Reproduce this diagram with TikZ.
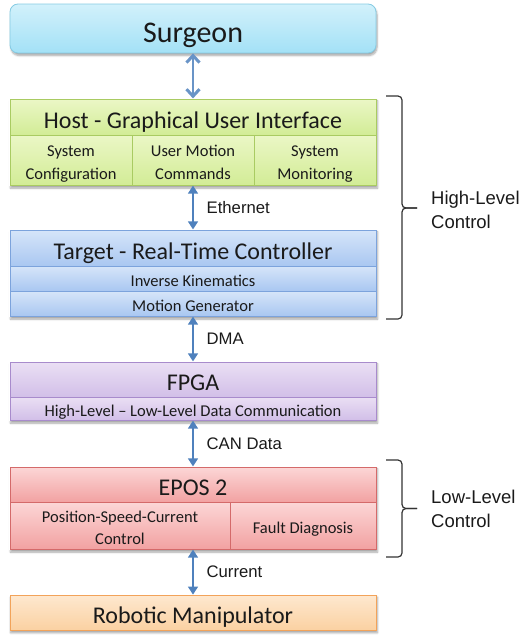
\documentclass[tikz,border=0pt]{standalone}
\usepackage{fontspec}
\setmainfont{Carlito}
\newfontfamily\labelfont{Liberation Sans}
\usetikzlibrary{arrows.meta,fit,backgrounds,shadows.blur}

\definecolor{linkblue}{HTML}{4F81BD}
\definecolor{txt}{HTML}{1A1A1A}
% box palettes: top, bottom, border
\definecolor{cyanT}{HTML}{D2F1FB}\definecolor{cyanB}{HTML}{A3E1F6}\definecolor{cyanD}{HTML}{86CBE3}
\definecolor{grnT}{HTML}{EBF7C6}\definecolor{grnB}{HTML}{D2EC96}\definecolor{grnD}{HTML}{A9CB62}
\definecolor{bluT}{HTML}{D6E5F9}\definecolor{bluB}{HTML}{A9C7F1}\definecolor{bluD}{HTML}{7CA3DC}
\definecolor{purT}{HTML}{EADFF4}\definecolor{purB}{HTML}{D2BFE8}\definecolor{purD}{HTML}{A88BCC}
\definecolor{redT}{HTML}{FCD6D6}\definecolor{redB}{HTML}{F2A2A2}\definecolor{redD}{HTML}{D46A6A}
\definecolor{orgT}{HTML}{FEE8CF}\definecolor{orgB}{HTML}{FBD1A2}\definecolor{orgD}{HTML}{F2A35A}

\tikzset{
  cell/.style n args={3}{rectangle, draw=#3, line width=0.8pt, top color=#1, bottom color=#2,
    inner sep=0pt},
  celltext/.style={text=txt, align=center, inner sep=0pt},
  % box texts: strutted lines, set slightly below the centre of their cells
  big/.style={label={[celltext, font=\fontsize{30}{34}\selectfont, yshift=-7.5pt]center:{\strut #1\strut}}},
  ttl/.style={label={[celltext, font=\fontsize{24}{28}\selectfont, yshift=-5.5pt]center:{\strut #1\strut}}},
  sbt/.style={label={[celltext, font=\fontsize{16.5}{22.5}\selectfont, yshift=-3.6pt]center:{\strut #1\strut}}},
  grp/.style={inner sep=0pt, draw=none, fill=none},
  shade/.style={blur shadow={shadow xshift=1pt, shadow yshift=-2.5pt, shadow blur steps=6, shadow opacity=35}},
  link/.style={draw=linkblue, line width=1.3pt, {Triangle[length=8pt,width=10pt]}-{Triangle[length=8pt,width=10pt]}},
  biglink/.style={draw=linkblue!85!white, line width=2pt, {Straight Barb[length=7pt,width=13pt,line width=3pt]}-{Straight Barb[length=7pt,width=13pt,line width=3pt]}},
  lab/.style={font=\labelfont\fontsize{16.7}{20}\selectfont, text=txt, inner sep=0pt},
  bracelab/.style={font=\labelfont\fontsize{18.5}{24}\selectfont, text=txt, align=left, inner sep=0pt, anchor=west},
  bracket/.style={draw=black!80, line width=1.2pt, rounded corners=4pt},
}

\begin{document}
\begin{tikzpicture}[x=1pt,y=-1pt]
\useasboundingbox (0,0) rectangle (521,637);

% Surgeon
\node[cell={cyanT}{cyanB}{cyanD}, rounded corners=8pt, minimum width=366pt, minimum height=49pt,
  shade, big={Surgeon}] (surgeon) at (193,28.5) {};

% Host - GUI
\node[cell={grnT}{grnB}{grnD}, minimum width=366pt, minimum height=36pt, ttl={Host - Graphical User Interface}] (host) at (193,117) {};
\node[cell={grnT}{grnB}{grnD}, minimum width=122pt, minimum height=50pt, sbt={System\\Configuration}] (cfg) at (71,160) {};
\node[cell={grnT}{grnB}{grnD}, minimum width=122pt, minimum height=50pt, sbt={User Motion\\Commands}] (umc) at (193,160) {};
\node[cell={grnT}{grnB}{grnD}, minimum width=122pt, minimum height=50pt, sbt={System\\Monitoring}] (mon) at (315,160) {};
\node[grp, fit=(host)(cfg)(mon)] (hostall) {};

% Target - real-time controller
\node[cell={bluT}{bluB}{bluD}, minimum width=366pt, minimum height=36pt, ttl={Target - Real-Time Controller}] (target) at (193,248) {};
\node[cell={bluT}{bluB}{bluD}, minimum width=366pt, minimum height=25pt, sbt={Inverse Kinematics}] (ik) at (193,278.5) {};
\node[cell={bluT}{bluB}{bluD}, minimum width=366pt, minimum height=25pt, sbt={Motion Generator}] (mg) at (193,303.5) {};
\node[grp, fit=(target)(ik)(mg)] (targetall) {};

% FPGA
\node[cell={purT}{purB}{purD}, minimum width=366pt, minimum height=35pt, ttl={FPGA}] (fpga) at (193,379.5) {};
\node[cell={purT}{purB}{purD}, minimum width=366pt, minimum height=23pt, sbt={High-Level -- Low-Level Data Communication}] (comm) at (193,408.5) {};
\node[grp, fit=(fpga)(comm)] (fpgaall) {};

% EPOS 2
\node[cell={redT}{redB}{redD}, minimum width=366pt, minimum height=35pt, ttl={EPOS 2}] (epos) at (193,484.5) {};
\node[cell={redT}{redB}{redD}, minimum width=220pt, minimum height=47pt, sbt={Position-Speed-Current\\Control}] (psc) at (120,525.5) {};
\node[cell={redT}{redB}{redD}, minimum width=146pt, minimum height=47pt, sbt={Fault Diagnosis}] (fault) at (303,525.5) {};
\node[grp, fit=(epos)(psc)(fault)] (eposall) {};

% Robotic manipulator
\node[cell={orgT}{orgB}{orgD}, minimum width=366pt, minimum height=35pt, ttl={Robotic Manipulator}] (robot) at (193,612.5) {};

% soft shadows under the stacked blocks
\begin{scope}[on background layer]
  \foreach \b in {hostall,targetall,fpgaall,eposall,robot}
    \path[fill=white, shade] (\b.north west) rectangle (\b.south east);
\end{scope}

% connectors
\draw[biglink] (surgeon.south) -- (hostall.north);
\draw[link] (hostall.south) -- node[lab, right=13pt] {Ethernet} (targetall.north);
\draw[link] (targetall.south) -- node[lab, right=13pt] {DMA} (fpgaall.north);
\draw[link] (fpgaall.south) -- node[lab, right=13pt] {CAN Data} (eposall.north);
\draw[link] (eposall.south) -- node[lab, right=13pt] {Current} (robot.north);

% braces
\coordinate (hiT) at (386,96);  \coordinate (hiB) at (386,319);
\coordinate (hiX) at (402,208); \coordinate (hiP) at (417,208);
\draw[bracket] (hiT) -- (hiT -| hiX) -- (hiX) -- (hiP);
\draw[bracket] (hiB) -- (hiB -| hiX) -- (hiX) -- (hiP);
\node[bracelab] (hilab) at (431,210) {High-Level\\Control};

\coordinate (loT) at (386,460);  \coordinate (loB) at (386,557);
\coordinate (loX) at (402,508.5); \coordinate (loP) at (417,508.5);
\draw[bracket] (loT) -- (loT -| loX) -- (loX) -- (loP);
\draw[bracket] (loB) -- (loB -| loX) -- (loX) -- (loP);
\node[bracelab] (lolab) at (431,508.5) {Low-Level\\Control};
\end{tikzpicture}
\end{document}
